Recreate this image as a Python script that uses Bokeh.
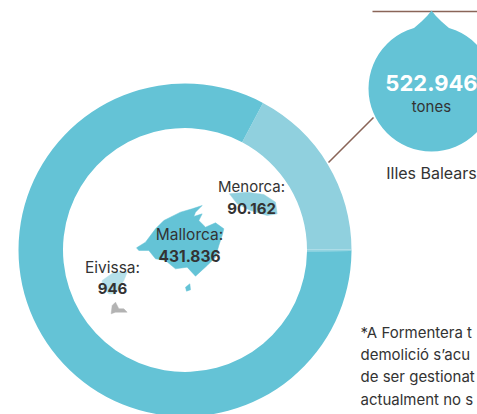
from math import pi
from bokeh.plotting import figure
from bokeh.embed import file_html
from bokeh.resources import INLINE
from bokeh.core.properties import value

# Donut data (tones)
islands = ["Menorca", "Mallorca", "Eivissa"]
tones = [90162, 431836, 946]
tone_labels = ["90.162", "431.836", "946"]
total_label = "522.946"
colors = ["#90d0de", "#64c3d6", "#64c3d6"]
footnote = ["*A Formentera t", "demolició s’acu", "de ser gestionat", "actualment no s"]

# Map outlines, in units of a 3x map grid (origin at the map's corner)
mallorca = [(168,232),(195,215),(225,175),(250,150),(300,125),(335,115),(365,105),(345,125),(340,138),(365,130),(355,150),(375,170),(405,157),(430,175),(425,195),(415,225),(405,260),(380,285),(345,317),(320,290),(285,295),(255,270),(225,265),(205,240),(175,240)]
cabrera = [(315,350),(328,340),(330,358),(318,362)]
menorca = [(447,70),(500,65),(550,72),(585,95),(590,130),(560,135),(510,120),(470,100)]
eivissa = [(65,330),(100,305),(140,305),(130,330),(105,370),(85,370),(65,350)]
formentera = [(92,430),(95,405),(105,395),(115,415),(130,415),(140,425),(120,425),(105,425)]

W, H = 477, 414
FONT = "Inter"
TEXT = "#333333"
BROWN = "#8a6558"

p = figure(width=W, height=H, x_range=(0, W), y_range=(0, H),
           output_backend="svg", toolbar_location=None, min_border=0,
           outline_line_color=None, background_fill_color="white", border_fill_color="white")
p.axis.visible = False
p.grid.visible = False


def Y(y):
    return H - y


# donut
cx, cy, R_out, R_in = 184.5, 249.5, 166.5, 122
start = 0.0
tot = sum(tones)
for v, c in zip(tones, colors):
    end = start + v / tot * 2 * pi
    p.annular_wedge(x=cx, y=Y(cy), inner_radius=R_in, outer_radius=R_out,
                    start_angle=start, end_angle=end, fill_color=c, line_color=None)
    start = end
# faint seam where the ring starts
p.line([cx + R_in, cx + R_out], [Y(cy), Y(cy)], line_color="#d8eff4", line_width=0.8)


def to_px(pts):
    return [80 + a / 3 for a, b in pts], [Y(170 + b / 3) for a, b in pts]


for shape, c in [(mallorca, "#64c3d6"), (cabrera, "#64c3d6"), (menorca, "#90d0de"),
                 (eivissa, "#b5e0ea"), (formentera, "#b3b3b3")]:
    xs, ys = to_px(shape)
    p.patch(xs, ys, fill_color=c, line_color=c, line_width=0.5)

# connector lines
p.line([372, W], [Y(11), Y(11)], line_color=BROWN, line_width=1.6)
p.line([328, 373], [Y(162), Y(117)], line_color=BROWN, line_width=1.6)

# drop
p.circle(x=431, y=Y(88), radius=63, fill_color="#64c3d6", line_color=None)
p.patch([431, 427, 421, 413, 449, 441, 435], [Y(10), Y(15), Y(21), Y(28), Y(28), Y(21), Y(15)],
        fill_color="#64c3d6", line_color=None)


def label(x, y, s, size, color=TEXT, bold=False, align="center"):
    p.text(x=[x], y=[Y(y)], text=[s], text_font=value(FONT), text_font_size=f"{size}px",
           text_color=color, text_align=align, text_baseline="middle",
           text_font_style="bold" if bold else "normal")


label(431, 82, total_label, 22, "white", True)
label(431, 106, "tones", 15)
label(431, 172, "Illes Balears", 16)

label(251, 186, f"{islands[0]}:", 15)
label(251, 208, tone_labels[0], 15, bold=True)
label(189, 234, f"{islands[1]}:", 15.5)
label(189, 255, tone_labels[1], 15.5, bold=True)
label(112, 267, f"{islands[2]}:", 15.5)
label(112, 288, tone_labels[2], 15, bold=True)

for line, y in zip(footnote, [332, 354, 376, 399]):
    label(360, y, line, 15, align="left")

html = file_html(p, INLINE)
open("out.html", "w").write(html)
